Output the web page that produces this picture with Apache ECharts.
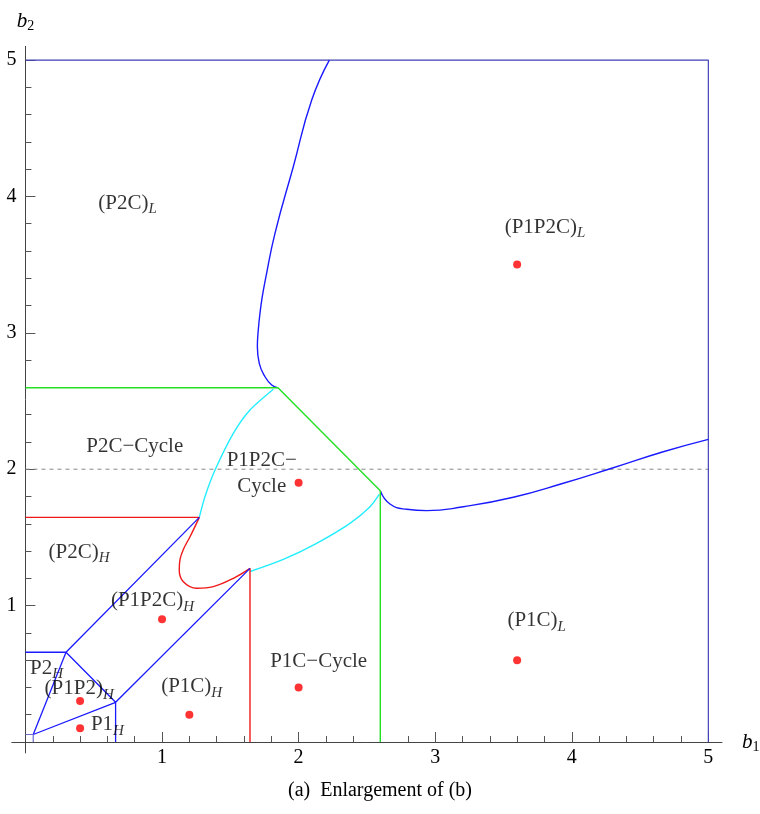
<!DOCTYPE html>
<html>
<head>
<meta charset="utf-8">
<script src="https://cdn.jsdelivr.net/npm/echarts@6/dist/echarts.min.js"></script>
<style>html,body{margin:0;padding:0;background:#fff}#c{width:760px;height:814px}</style>
</head>
<body>
<div id="c"></div>
<script>
// ---- data ----
const majorTicks = [1, 2, 3, 4, 5];
const minorTicks = [0.2,0.4,0.6,0.8,1.2,1.4,1.6,1.8,2.2,2.4,2.6,2.8,3.2,3.4,3.6,3.8,4.2,4.4,4.6,4.8];

const frameX = [0, 5, 5];
const frameY = [5, 5, 0];

const blueUpperX = [2.225, 2.096, 1.961, 1.827, 1.756, 1.734, 1.717, 1.703, 1.698, 1.712, 1.754, 1.803, 1.845];
const blueUpperY = [5.000, 4.707, 4.218, 3.729, 3.387, 3.265, 3.143, 3.000, 2.898, 2.776, 2.678, 2.617, 2.597];

const blueRightX = [2.598, 2.669, 2.791, 2.938, 3.206, 3.572, 3.938, 4.304, 4.670, 5.000];
const blueRightY = [1.842, 1.745, 1.706, 1.696, 1.725, 1.794, 1.897, 2.011, 2.128, 2.219];

const greenX = [0, 1.849, 2.598, 2.598];
const greenY = [2.597, 2.597, 1.842, 0];

const cyanUpperX = [1.815, 1.644, 1.522, 1.388, 1.314, 1.273];
const cyanUpperY = [2.586, 2.434, 2.263, 1.994, 1.798, 1.647];

const cyanLowerX = [1.644, 1.888, 2.132, 2.376, 2.523, 2.590];
const cyanLowerY = [1.250, 1.339, 1.457, 1.603, 1.725, 1.815];

const redStraightX = [0, 1.273];
const redStraightY = [1.647, 1.647];
const redCurveX = [1.273, 1.205, 1.160, 1.132, 1.126, 1.156, 1.254, 1.375, 1.522, 1.644];
const redCurveY = [1.647, 1.505, 1.420, 1.340, 1.261, 1.175, 1.127, 1.139, 1.200, 1.273];
const redVertX = [1.644, 1.644];
const redVertY = [1.273, 0];

const polyAX = [0, 0.297, 1.273];
const polyAY = [0.658, 0.658, 1.647];
const polyBX = [0.297, 0.057];
const polyBY = [0.658, 0.055];
const polyCX = [0.297, 0.660, 1.644];
const polyCY = [0.658, 0.291, 1.273];
const polyDX = [0.057, 0.660, 0.660];
const polyDY = [0.055, 0.291, 0];
const boxX = [0, 0.057, 0.057];
const boxY = [0.055, 0.055, 0];

const dashX = [0, 5];
const dashY = [2, 2];

const dotX = [3.6, 2.0, 1.0, 0.4, 0.4, 1.2, 2.0, 3.6];
const dotY = [3.5, 1.9, 0.9, 0.3, 0.1, 0.2, 0.4, 0.6];

const regionNames = ['(P2C)', '(P1P2C)', 'P2C\u2212Cycle', 'P1P2C\u2212\nCycle', '(P2C)', '(P1P2C)', 'P1C\u2212Cycle', '(P1C)', 'P2', '(P1P2)', 'P1', '(P1C)'];
const regionSubs  = ['L', 'L', '', '', 'H', 'H', '', 'L', 'H', 'H', 'H', 'H'];
const regionX = [0.747, 3.804, 0.800, 1.730, 0.392, 0.930, 2.147, 3.743, 0.155, 0.393, 0.600, 1.217];
const regionY = [3.950, 3.772, 2.165, 1.970, 1.390, 1.036, 0.589, 0.889, 0.540, 0.389, 0.125, 0.405];

const caption = '(a)  Enlargement of (b)';
// ---- end data ----

const F = '"Liberation Serif", "DejaVu Serif", serif';
const FS = 21;
const TXT = '#000';
const zip = (xs, ys) => xs.map((x, i) => [x, ys[i]]);

const rich = {
  m: { fontFamily: F, fontSize: FS, color: TXT, lineHeight: 26 },
  s: { fontFamily: F, fontSize: 15, fontStyle: 'italic', color: TXT, lineHeight: 18, padding: [12, 0, 0, 0] }
};

function richLabel(name, sub) {
  const lines = name.split('\n').map(l => '{m|' + l + '}');
  let t = lines.join('\n');
  if (sub) t += '{s|' + sub + '}';
  return t;
}

function lineSeries(xs, ys, color, width, smooth, extra) {
  return Object.assign({
    type: 'line',
    data: zip(xs, ys),
    symbol: 'none',
    smooth: smooth || false,
    lineStyle: { color: color, width: width },
    silent: true,
    z: 3
  }, extra || {});
}

const BLUE = '#1a1aff';
const FRAME = '#4040b8';
const GREEN = '#22e022';
const CYAN = '#22eeff';
const RED = '#f01818';

// axis ranges (axes extend a little beyond the 0..5 data box, crossing at the origin)
const XMIN = -0.1, XMAX = 5.1, YMIN = -0.08, YMAX = 5.1;
const G = { left: 11.8, top: 46.4, width: 710.2, height: 706.5 };
const yAxisOffset = -(0 - XMIN) / (XMAX - XMIN) * G.width;   // move y axis to x = 0
const xAxisOffset = -(0 - YMIN) / (YMAX - YMIN) * G.height;  // move x axis to y = 0

const chart = echarts.init(document.getElementById('c'), null, { renderer: 'canvas' });

const axisBase = {
  type: 'value',
  splitLine: { show: false },
  axisLine: { onZero: false, lineStyle: { color: '#444', width: 1 } }
};
const nameRich = {
  i: { fontFamily: F, fontSize: 21, fontStyle: 'italic', color: TXT, lineHeight: 22 },
  s: { fontFamily: F, fontSize: 14, color: TXT, lineHeight: 16, padding: [10, 0, 0, 0] }
};

const option = {
  animation: false,
  backgroundColor: '#fff',
  title: {
    text: caption,
    left: 'center',
    top: 776,
    textStyle: { fontFamily: F, fontSize: 20, fontWeight: 'normal', color: TXT }
  },
  grid: { left: G.left, top: G.top, width: G.width, height: G.height, containLabel: false, outerBoundsMode: 'none' },
  xAxis: [
    Object.assign({}, axisBase, {
      min: XMIN, max: XMAX, position: 'bottom', offset: xAxisOffset,
      name: '{i|b}{s|1}', nameLocation: 'end', nameGap: 20,
      nameTextStyle: { rich: nameRich },
      axisTick: { show: true, inside: true, length: 10, customValues: majorTicks, lineStyle: { color: '#555' } },
      axisLabel: { show: true, customValues: majorTicks, margin: 6, fontFamily: F, fontSize: 20, color: TXT }
    }),
    Object.assign({}, axisBase, {
      min: XMIN, max: XMAX, position: 'bottom', offset: xAxisOffset,
      axisLine: { show: false, onZero: false },
      axisTick: { show: true, inside: true, length: 6, customValues: minorTicks, lineStyle: { color: '#555' } },
      axisLabel: { show: false }
    })
  ],
  yAxis: [
    Object.assign({}, axisBase, {
      min: YMIN, max: YMAX, position: 'left', offset: yAxisOffset,
      name: '{i|b}{s|2}', nameLocation: 'end', nameGap: 14,
      nameTextStyle: { align: 'center', rich: nameRich },
      axisTick: { show: true, inside: true, length: 10, customValues: majorTicks, lineStyle: { color: '#555' } },
      axisLabel: { show: true, customValues: majorTicks, margin: 9, fontFamily: F, fontSize: 20, color: TXT }
    }),
    Object.assign({}, axisBase, {
      min: YMIN, max: YMAX, position: 'left', offset: yAxisOffset,
      axisLine: { show: false, onZero: false },
      axisTick: { show: true, inside: true, length: 6, customValues: minorTicks, lineStyle: { color: '#555' } },
      axisLabel: { show: false }
    })
  ],
  series: [
    lineSeries(dashX, dashY, '#888', 1, false, { lineStyle: { color: '#888', width: 1, type: [4, 4] }, z: 2 }),
    lineSeries(frameX, frameY, FRAME, 1.2, false),
    lineSeries(blueUpperX, blueUpperY, BLUE, 1.4, 0.5),
    lineSeries(blueRightX, blueRightY, BLUE, 1.4, 0.5),
    lineSeries(cyanUpperX, cyanUpperY, CYAN, 1.4, 0.25),
    lineSeries(cyanLowerX, cyanLowerY, CYAN, 1.4, 0.3),
    lineSeries(greenX, greenY, GREEN, 1.4, false),
    lineSeries(redStraightX, redStraightY, RED, 1.4, false),
    lineSeries(redCurveX, redCurveY, RED, 1.4, 0.4),
    lineSeries(redVertX, redVertY, RED, 1.4, false),
    lineSeries(polyAX, polyAY, BLUE, 1.3, false),
    lineSeries(polyBX, polyBY, BLUE, 1.3, false),
    lineSeries(polyCX, polyCY, BLUE, 1.3, false),
    lineSeries(polyDX, polyDY, BLUE, 1.3, false),
    lineSeries(boxX, boxY, '#6a6ad0', 1.2, false),
    {
      type: 'scatter',
      data: zip(dotX, dotY),
      symbolSize: 8,
      itemStyle: { color: '#ff0000' },
      silent: true,
      z: 5
    },
    {
      type: 'scatter',
      data: regionX.map((x, i) => ({
        value: [x, regionY[i]],
        label: { formatter: richLabel(regionNames[i], regionSubs[i]) }
      })),
      symbolSize: 0,
      itemStyle: { color: 'transparent' },
      label: { show: true, position: 'inside', align: 'center', verticalAlign: 'middle', rich: rich },
      silent: true,
      z: 6
    }
  ]
};
chart.setOption(option);
</script>
</body>
</html>
